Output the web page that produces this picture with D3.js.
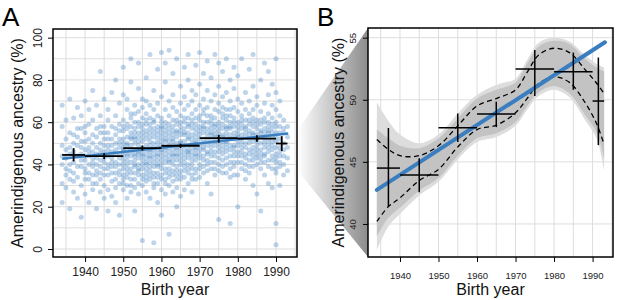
<!DOCTYPE html>
<html>
<head>
<meta charset="utf-8">
<script src="https://cdn.jsdelivr.net/npm/d3@7"></script>
<style>
body { margin: 0; background: #fff; }
svg { display: block; font-family: "Liberation Sans", Arial, sans-serif; }
</style>
</head>
<body>
<script>
var w = 617, h = 300;

// scatter (panel A): each row is a birth year followed by ancestry values (%)
var pts1930s = [
  [1934, 44, 31, 58, 68, 22, 40, 49],
  [1935, 52, 38, 47, 61, 29, 43, 35],
  [1936, 40, 55, 33, 48, 71, 19, 45, 37],
  [1937, 46, 36, 62, 27, 50, 41, 54, 32],
  [1938, 53, 34, 44, 67, 24, 49, 39, 57],
  [1939, 39, 57, 45, 30, 63, 48, 15, 42, 51]
];
var pts1940s = [
  [1940, 42, 55, 33, 47, 70, 26, 51, 38, 44, 36, 58],
  [1941, 48, 36, 59, 44, 22, 66, 40, 33, 52, 46],
  [1942, 35, 50, 43, 61, 28, 75, 46, 39, 54, 41, 31],
  [1943, 45, 31, 53, 40, 68, 19, 57, 37, 48, 43, 35],
  [1944, 50, 42, 27, 63, 36, 47, 84, 33, 55, 39, 45, 58],
  [1945, 38, 46, 58, 30, 52, 71, 24, 43, 49, 35, 41, 55],
  [1946, 44, 35, 61, 49, 28, 55, 40, 66, 18, 38, 47, 52],
  [1947, 52, 39, 46, 32, 58, 74, 45, 25, 41, 36, 49, 43],
  [1948, 41, 54, 29, 47, 63, 36, 50, 80, 22, 45, 39, 57, 33],
  [1949, 48, 37, 56, 43, 31, 69, 52, 40, 16, 59, 45, 35, 50]
];
var pts1950s = [
  [1950, 44, 52, 35, 61, 48, 28, 73, 40, 56, 33, 86, 46, 38, 50, 42, 58, 31, 47],
  [1951, 50, 38, 57, 45, 30, 66, 42, 53, 24, 71, 47, 36, 44, 59, 34, 49, 40],
  [1952, 41, 55, 47, 33, 62, 49, 27, 58, 44, 79, 38, 52, 90, 36, 46, 53, 30, 64],
  [1953, 53, 45, 36, 60, 42, 29, 68, 50, 39, 57, 18, 47, 64, 33, 44, 52, 40, 55],
  [1954, 46, 58, 37, 51, 43, 65, 31, 55, 40, 76, 26, 49, 88, 35, 45, 60, 38, 53],
  [1955, 48, 40, 62, 35, 53, 45, 71, 30, 57, 42, 4, 51, 67, 38, 44, 55, 33, 47, 59],
  [1956, 43, 56, 38, 49, 64, 32, 52, 45, 81, 27, 59, 41, 70, 36, 47, 54, 40, 61, 34],
  [1957, 51, 44, 59, 37, 47, 68, 33, 55, 41, 92, 24, 49, 62, 46, 39, 53, 57, 35, 43],
  [1958, 45, 53, 39, 61, 48, 34, 57, 43, 75, 29, 50, 66, 3, 41, 36, 55, 47, 31, 60],
  [1959, 50, 42, 58, 36, 47, 63, 54, 31, 45, 85, 39, 69, 22, 52, 44, 56, 40, 48, 34]
];
var pts1960s = [
  [1960, 47, 55, 40, 62, 51, 35, 44, 58, 72, 28, 49, 93, 38, 60, 16, 42, 53, 33, 46, 57],
  [1961, 52, 43, 60, 38, 48, 66, 33, 56, 45, 79, 26, 51, 41, 88, 36, 54, 47, 31, 58],
  [1962, 46, 57, 41, 53, 36, 63, 49, 30, 59, 44, 7, 70, 38, 94, 51, 34, 55, 42, 48],
  [1963, 49, 54, 37, 61, 45, 32, 67, 51, 42, 58, 83, 27, 47, 73, 40, 56, 35, 44, 52],
  [1964, 53, 44, 59, 39, 50, 65, 35, 56, 47, 90, 29, 61, 42, 20, 37, 48, 55, 33, 45],
  [1965, 48, 56, 42, 63, 51, 37, 46, 69, 33, 58, 77, 44, 25, 54, 40, 50, 35, 60],
  [1966, 51, 45, 60, 39, 54, 66, 34, 49, 57, 86, 41, 72, 28, 47, 37, 55, 43, 62],
  [1967, 47, 58, 43, 62, 52, 36, 68, 49, 55, 31, 80, 45, 92, 40, 53, 38, 59, 46],
  [1968, 54, 46, 61, 40, 57, 70, 35, 50, 64, 44, 27, 75, 52, 38, 48, 59, 42, 33],
  [1969, 50, 59, 44, 66, 38, 53, 47, 73, 33, 57, 87, 42, 62, 48, 36, 55, 45, 51]
];
var pts1970s = [
  [1970, 52, 61, 45, 68, 40, 56, 49, 78, 34, 63, 93, 47, 58, 43, 54, 38],
  [1971, 55, 47, 64, 39, 58, 71, 50, 36, 83, 44, 60, 52, 42, 57, 48, 66],
  [1972, 49, 60, 53, 42, 67, 57, 75, 31, 46, 89, 63, 51, 40, 55, 45, 37],
  [1973, 57, 50, 63, 44, 70, 54, 38, 81, 48, 59, 26, 52, 46, 61, 41, 55],
  [1974, 53, 62, 46, 58, 73, 41, 51, 66, 35, 92, 56, 49, 44, 59, 38, 54],
  [1975, 56, 48, 65, 52, 43, 69, 60, 37, 77, 50, 88, 14, 54, 46, 58, 40],
  [1976, 51, 59, 45, 64, 54, 72, 39, 57, 84, 47, 62, 53, 42, 49, 67, 36],
  [1977, 58, 50, 66, 43, 55, 74, 61, 36, 48, 90, 53, 46, 57, 40, 51, 63],
  [1978, 52, 63, 47, 57, 70, 41, 54, 80, 34, 60, 12, 49, 44, 58, 38, 66],
  [1979, 55, 49, 62, 44, 58, 67, 52, 39, 76, 46, 86, 53, 41, 60, 48, 35]
];
var pts1980s = [
  [1980, 53, 60, 46, 65, 51, 41, 71, 56, 35, 82, 20, 49, 58, 44, 54],
  [1981, 57, 48, 63, 52, 44, 69, 38, 59, 90, 54, 46, 61, 41, 50],
  [1982, 50, 61, 45, 55, 74, 40, 58, 66, 33, 48, 53, 43, 57, 37],
  [1983, 56, 47, 64, 52, 42, 70, 59, 36, 85, 50, 45, 61, 54, 39],
  [1984, 51, 58, 44, 62, 54, 39, 77, 48, 66, 30, 92, 55, 46, 60, 42],
  [1985, 54, 49, 61, 45, 57, 72, 40, 52, 68, 26, 47, 59, 43, 51],
  [1986, 50, 59, 43, 56, 65, 38, 53, 80, 47, 18, 55, 45, 61, 41],
  [1987, 55, 48, 62, 52, 41, 69, 57, 35, 88, 45, 50, 60, 44, 53],
  [1988, 52, 60, 46, 56, 73, 42, 50, 64, 31, 84, 48, 55, 39, 58],
  [1989, 49, 57, 44, 62, 53, 38, 68, 47, 78, 29, 51, 42, 59, 55]
];
var pts1990s = [
  [1990, 48, 55, 41, 60, 51, 36, 66, 2, 45, 74, 12, 90, 53, 43, 58, 38],
  [1991, 52, 44, 58, 39, 63, 48, 30, 70, 46, 55, 41],
  [1992, 47, 55, 40, 61, 35, 50, 44, 57],
  [1993, 43, 53, 37, 58, 48]
];

// bin means with 95% intervals (black crosses)
var binStart = [1934, 1940, 1950, 1960, 1970, 1980, 1990];
var binEnd   = [1940, 1950, 1960, 1970, 1980, 1990, 1993];
var binMid   = [1937, 1945, 1955, 1965, 1975, 1985, 1991.5];
var binMean  = [44.5, 43.95, 47.75, 48.85, 52.48, 52.26, 49.9];
var binLow   = [41.45, 42.55, 46.6, 47.8, 50.3, 50.8, 46.35];
var binHigh  = [47.73, 45.3, 48.9, 49.85, 54.0, 53.8, 53.4];

// linear fit (blue)
var fitYears  = [1934, 1993.2];
var fitValues = [42.74, 54.63];

// smooth fit (panel B): dashed interval and bootstrap envelopes
var curveYears = [1934, 1937, 1940, 1945, 1950, 1955, 1960, 1965, 1970, 1973, 1976, 1980, 1984, 1988, 1991, 1993];
var dashUpper  = [46.8, 46.0, 45.5, 45.5, 46.3, 47.9, 49.5, 50.1, 50.8, 52.2, 53.6, 54.15, 53.8, 52.45, 51.35, 50.5];
var dashLower  = [40.2, 41.4, 42.1, 43.5, 44.4, 46.2, 47.6, 47.95, 48.95, 50.1, 51.3, 51.85, 51.4, 49.8, 48.1, 46.4];
var bandUpper  = [47.6, 46.9, 46.3, 46.1, 46.9, 48.5, 50.1, 50.8, 51.4, 52.9, 54.3, 54.75, 54.5, 53.3, 52.6, 52.3];
var bandLower  = [39.0, 40.5, 41.3, 42.7, 43.7, 45.5, 46.9, 47.3, 48.2, 49.5, 50.6, 51.1, 50.5, 48.8, 47.4, 45.3];
var fanUpper   = [49.8, 48.3, 47.2, 46.5, 47.2, 48.9, 50.4, 51.2, 51.7, 53.2, 54.6, 55.0, 54.7, 53.6, 52.9, 52.6];
var fanLower   = [37.9, 39.8, 40.8, 42.3, 43.4, 45.2, 46.6, 47.0, 47.9, 49.2, 50.3, 50.8, 50.2, 48.4, 46.9, 44.3];

var xTicks  = [1940, 1950, 1960, 1970, 1980, 1990];
var yTicksA = [0, 20, 40, 60, 80, 100];
var yTicksB = [40, 45, 50, 55];

var blue = "#3a7ebf";

var svg = d3.select("body").append("svg")
    .attr("width", w)
    .attr("height", h);

var A = {left: 53, right: 297, top: 29, bottom: 257};
var B = {left: 368, right: 613, top: 28, bottom: 257};

var xA = d3.scaleLinear().domain([1931.6, 1995.5]).range([A.left, A.right]);
var yA = d3.scaleLinear().domain([-3.8, 104.1]).range([A.bottom, A.top]);
var xB = d3.scaleLinear().domain([1931.7, 1995.3]).range([B.left, B.right]);
var yB = d3.scaleLinear().domain([37.34, 55.78]).range([B.bottom, B.top]);

var defs = svg.append("defs");
var grad = defs.append("linearGradient")
    .attr("id", "zoomGrad")
    .attr("gradientUnits", "userSpaceOnUse")
    .attr("x1", A.right).attr("x2", B.left)
    .attr("y1", 0).attr("y2", 0);
grad.append("stop").attr("offset", 0).attr("stop-color", "#ffffff");
grad.append("stop").attr("offset", 1).attr("stop-color", "#8c8c8c");

defs.append("clipPath").attr("id", "clipA").append("rect")
    .attr("x", A.left).attr("y", A.top)
    .attr("width", A.right - A.left).attr("height", A.bottom - A.top);
defs.append("clipPath").attr("id", "clipB").append("rect")
    .attr("x", B.left).attr("y", B.top)
    .attr("width", B.right - B.left).attr("height", B.bottom - B.top);

// zoom wedge from panel A to panel B
svg.append("path")
    .attr("d", "M" + [A.right, yA(yB.domain()[1])] +
               "L" + [B.left, B.top] +
               "L" + [B.left, B.bottom] +
               "L" + [A.right, yA(yB.domain()[0])] + "Z")
    .attr("fill", "url(#zoomGrad)");

// white plot backgrounds
svg.append("rect").attr("x", A.left).attr("y", A.top)
    .attr("width", A.right - A.left).attr("height", A.bottom - A.top).attr("fill", "#fff");
svg.append("rect").attr("x", B.left).attr("y", B.top)
    .attr("width", B.right - B.left).attr("height", B.bottom - B.top).attr("fill", "#fff");

function grid(g, x, y, xs, ys, box) {
    g.selectAll("line.v").data(xs).enter().append("line")
        .attr("x1", function(d) { return x(d); }).attr("x2", function(d) { return x(d); })
        .attr("y1", box.top).attr("y2", box.bottom);
    g.selectAll("line.h").data(ys).enter().append("line")
        .attr("y1", function(d) { return y(d); }).attr("y2", function(d) { return y(d); })
        .attr("x1", box.left).attr("x2", box.right);
    g.selectAll("line").attr("stroke", "#dddddd").attr("stroke-width", 1);
}

function axes(x, y, box, xt, yt, fs, xLabelY) {
    var gx = svg.append("g").attr("transform", "translate(0," + box.bottom + ")")
        .call(d3.axisBottom(x).tickValues(xt).tickSize(5).tickFormat(d3.format("d")));
    gx.select(".domain").remove();
    gx.selectAll("line").attr("stroke", "#000").attr("stroke-width", 1);
    gx.selectAll("text").attr("y", xLabelY).attr("dy", "0.71em")
        .attr("font-size", fs).attr("fill", "#222").attr("font-family", null);

    var gy = svg.append("g").attr("transform", "translate(" + box.left + ",0)")
        .call(d3.axisLeft(y).tickValues(yt).tickSize(5));
    gy.select(".domain").remove();
    gy.selectAll("line").attr("stroke", "#000").attr("stroke-width", 1);
    gy.selectAll("text")
        .attr("transform", "rotate(-90)")
        .attr("x", 0).attr("y", -15).attr("dy", "0.35em")
        .attr("text-anchor", "middle")
        .attr("font-size", fs).attr("fill", "#222").attr("font-family", null);
}

function crosses(g, x, y, sw) {
    binMid.forEach(function(m, i) {
        g.append("line")
            .attr("x1", x(binStart[i])).attr("x2", x(binEnd[i]))
            .attr("y1", y(binMean[i])).attr("y2", y(binMean[i]))
            .attr("stroke", "#000").attr("stroke-width", sw);
        g.append("line")
            .attr("x1", x(m)).attr("x2", x(m))
            .attr("y1", y(binLow[i])).attr("y2", y(binHigh[i]))
            .attr("stroke", "#000").attr("stroke-width", sw);
    });
}

// ---------- panel A ----------
var gA = svg.append("g").attr("clip-path", "url(#clipA)");
grid(gA.append("g"), xA, yA, d3.range(1935, 1996, 5), d3.range(0, 101, 10), A);

var scatter = [];
[pts1930s, pts1940s, pts1950s, pts1960s, pts1970s, pts1980s, pts1990s].forEach(function(rows) {
    rows.forEach(function(r) {
        r.slice(1).forEach(function(v) { scatter.push([r[0], v]); });
    });
});

gA.append("g").selectAll("circle")
    .data(scatter)
    .enter()
    .append("circle")
    .attr("cx", function(d) { return xA(d[0]); })
    .attr("cy", function(d) { return yA(d[1]); })
    .attr("r", 2.5)
    .attr("fill", "#3f80c2")
    .attr("fill-opacity", 0.34);

gA.append("line")
    .attr("x1", xA(fitYears[0])).attr("x2", xA(fitYears[1]))
    .attr("y1", yA(fitValues[0])).attr("y2", yA(fitValues[1]))
    .attr("stroke", blue).attr("stroke-width", 2.5);

crosses(gA, xA, yA, 1.8);

svg.append("rect").attr("x", A.left).attr("y", A.top)
    .attr("width", A.right - A.left).attr("height", A.bottom - A.top)
    .attr("fill", "none").attr("stroke", "#000").attr("stroke-width", 1.5);

axes(xA, yA, A, xTicks, yTicksA, 12, 10.5);

// ---------- panel B ----------
var gB = svg.append("g").attr("clip-path", "url(#clipB)");
grid(gB.append("g"), xB, yB, d3.range(1935, 1996, 5), yTicksB, B);

var idx = d3.range(curveYears.length);
function band(lo, hi) {
    return d3.area()
        .x(function(i) { return xB(curveYears[i]); })
        .y0(function(i) { return yB(lo[i]); })
        .y1(function(i) { return yB(hi[i]); })
        .curve(d3.curveCatmullRom.alpha(0.5))(idx);
}
function curve(vals) {
    return d3.line()
        .x(function(i) { return xB(curveYears[i]); })
        .y(function(i) { return yB(vals[i]); })
        .curve(d3.curveCatmullRom.alpha(0.5))(idx);
}

gB.append("path").attr("d", band(fanLower, fanUpper)).attr("fill", "#dddddd");
gB.append("path").attr("d", band(bandLower, bandUpper)).attr("fill", "#c3c3c3");

[dashUpper, dashLower].forEach(function(v) {
    gB.append("path").attr("d", curve(v))
        .attr("fill", "none").attr("stroke", "#000")
        .attr("stroke-width", 1.3).attr("stroke-dasharray", "5,3.5");
});

gB.append("line")
    .attr("x1", xB(fitYears[0])).attr("x2", xB(fitYears[1]))
    .attr("y1", yB(fitValues[0])).attr("y2", yB(fitValues[1]))
    .attr("stroke", blue).attr("stroke-width", 4).attr("stroke-linecap", "round");

crosses(gB, xB, yB, 1.5);

svg.append("rect").attr("x", B.left).attr("y", B.top)
    .attr("width", B.right - B.left).attr("height", B.bottom - B.top)
    .attr("fill", "none").attr("stroke", "#000").attr("stroke-width", 1.5);

axes(xB, yB, B, xTicks, yTicksB, 9.5, 15.5);

// ---------- titles ----------
function yTitle(x, y) {
    svg.append("text")
        .attr("transform", "translate(" + x + "," + y + ") rotate(-90)")
        .attr("text-anchor", "middle")
        .attr("font-size", 16)
        .attr("fill", "#111")
        .text("Amerindigenous ancestry (%)");
}
yTitle(23, (A.top + A.bottom) / 2);
yTitle(344, (B.top + B.bottom) / 2);

svg.append("text").attr("x", (A.left + A.right) / 2).attr("y", 294.5)
    .attr("text-anchor", "middle").attr("font-size", 16).attr("fill", "#111").text("Birth year");
svg.append("text").attr("x", (B.left + B.right) / 2).attr("y", 295)
    .attr("text-anchor", "middle").attr("font-size", 16).attr("fill", "#111").text("Birth year");

svg.append("text").attr("x", 2).attr("y", 26).attr("font-size", 26).attr("fill", "#000").text("A");
svg.append("text").attr("x", 317).attr("y", 26).attr("font-size", 26).attr("fill", "#000").text("B");
</script>
</body>
</html>
